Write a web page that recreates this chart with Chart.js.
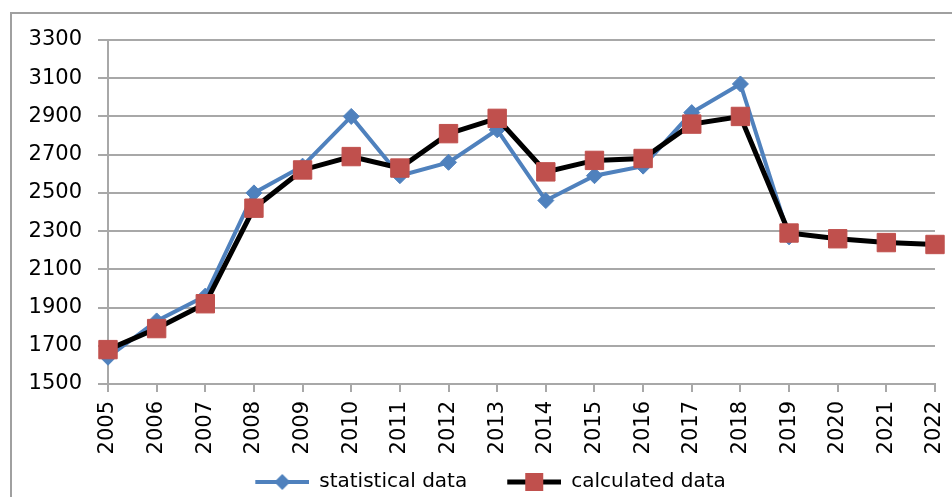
<!DOCTYPE html>
<html>
<head>
<meta charset="utf-8">
<script src="https://cdn.jsdelivr.net/npm/chart.js@4"></script>
<style>
  html, body { margin: 0; padding: 0; background: #fff; }
  #wrap { width: 952px; height: 497px; position: relative; }
</style>
</head>
<body>
<div id="wrap"><canvas id="chart"></canvas></div>
<script>
const years = ['2005', '2006', '2007', '2008', '2009', '2010', '2011', '2012', '2013',
  '2014', '2015', '2016', '2017', '2018', '2019', '2020', '2021', '2022'];
const statisticalData = [1640, 1830, 1960, 2500, 2640, 2900, 2590, 2660, 2830,
  2460, 2590, 2640, 2920, 3070, 2270, null, null, null];
const calculatedData = [1680, 1790, 1920, 2420, 2620, 2690, 2630, 2810, 2890,
  2610, 2670, 2680, 2860, 2900, 2290, 2260, 2240, 2230];
const yTicks = [1500, 1700, 1900, 2100, 2300, 2500, 2700, 2900, 3100, 3300];

const BLUE = '#4F81BD';
const RED = '#C0504D';
const GRID = '#a8a8a8';

// legend icons: line segment with the marker on it (left part kept blank as spacing)
function makeIcon(lineColor, lineWidth, drawMarker) {
    const c = document.createElement('canvas');
    c.width = 84;
    c.height = 22;
    const g = c.getContext('2d');
    g.strokeStyle = lineColor;
    g.lineWidth = lineWidth;
    g.beginPath();
    g.moveTo(30, 11);
    g.lineTo(84, 11);
    g.stroke();
    drawMarker(g, 57, 11);
    return c;
}
const blueIcon = makeIcon(BLUE, 4, (g, x, y) => {
    g.fillStyle = BLUE;
    g.beginPath();
    g.moveTo(x, y - 8); g.lineTo(x + 8, y); g.lineTo(x, y + 8); g.lineTo(x - 8, y);
    g.closePath();
    g.fill();
});
const redIcon = makeIcon('#000', 5, (g, x, y) => {
    g.fillStyle = RED;
    g.fillRect(x - 9, y - 9, 18, 18);
});
const icons = [blueIcon, redIcon];

const framePlugin = {
    id: 'frame',
    beforeDraw(chart) {
        const ctx = chart.ctx;
        ctx.save();
        ctx.strokeStyle = '#a0a0a0';
        ctx.lineWidth = 2;
        ctx.beginPath();
        ctx.moveTo(11, 497);
        ctx.lineTo(11, 13);
        ctx.lineTo(952, 13);
        ctx.stroke();
        ctx.restore();
    }
};

const ctx = document.getElementById('chart').getContext('2d');
new Chart(ctx, {
    type: 'line',
    data: {
        labels: years,
        datasets: [{
            label: 'statistical data',
            data: statisticalData,
            borderColor: BLUE,
            backgroundColor: BLUE,
            borderWidth: 4,
            pointStyle: 'rectRot',
            pointRadius: 8,
            pointBackgroundColor: BLUE,
            pointBorderColor: BLUE,
            pointBorderWidth: 1,
            tension: 0,
            order: 1
        }, {
            label: 'calculated data',
            data: calculatedData,
            borderColor: '#000',
            backgroundColor: RED,
            borderWidth: 5,
            pointStyle: 'rect',
            pointRadius: 13,
            pointBackgroundColor: RED,
            pointBorderColor: RED,
            pointBorderWidth: 1,
            tension: 0,
            order: 0
        }]
    },
    options: {
        responsive: true,
        maintainAspectRatio: false,
        animation: false,
        layout: { padding: { left: 16, right: 17, top: 40, bottom: -5 } },
        scales: {
            x: {
                offset: false,
                grid: {
                    drawOnChartArea: false,
                    drawTicks: true,
                    tickLength: 8,
                    color: GRID,
                    lineWidth: 2
                },
                border: { display: true, color: GRID, width: 2 },
                ticks: {
                    autoSkip: false,
                    minRotation: 90,
                    maxRotation: 90,
                    padding: 9,
                    color: '#000',
                    font: { family: 'DejaVu Sans', size: 21 }
                },
                afterFit(scale) {
                    scale.height = 78;
                    scale.paddingLeft = 0;
                    scale.paddingRight = 0;
                }
            },
            y: {
                min: 1500,
                max: 3300,
                afterBuildTicks(scale) { scale.ticks = yTicks.map(v => ({ value: v })); },
                grid: {
                    color: GRID,
                    lineWidth: 2,
                    drawTicks: true,
                    tickLength: 10
                },
                border: { display: true, color: GRID, width: 2 },
                ticks: {
                    padding: 16,
                    color: '#000',
                    font: { family: 'DejaVu Sans', size: 21 },
                    callback: v => String(v)
                },
                afterFit(scale) { scale.width = 92; }
            }
        },
        plugins: {
            legend: {
                position: 'bottom',
                labels: {
                    usePointStyle: true,
                    pointStyleWidth: 84,
                    padding: 10,
                    color: '#000',
                    font: { family: 'DejaVu Sans', size: 20 },
                    sort: (a, b) => a.datasetIndex - b.datasetIndex,
                    generateLabels(chart) {
                        const items = Chart.defaults.plugins.legend.labels.generateLabels(chart);
                        return items.map(it => Object.assign(it, { pointStyle: icons[it.datasetIndex], rotation: 0 }));
                    }
                }
            },
            tooltip: { enabled: false }
        }
    },
    plugins: [framePlugin]
});
</script>
</body>
</html>
